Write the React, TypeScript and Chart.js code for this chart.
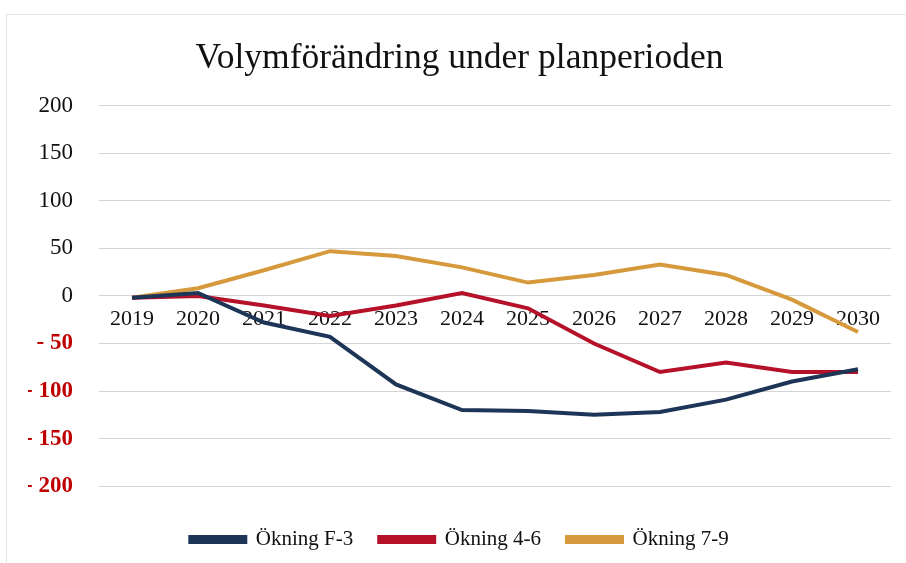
import React, { useEffect, useRef } from "react";
import { Chart, registerables } from "chart.js";

Chart.register(...registerables);

const years = ["2019", "2020", "2021", "2022", "2023", "2024", "2025", "2026", "2027", "2028", "2029", "2030"];
const okningF3 = [-2, 3, -28, -43, -93, -120, -121, -125, -122, -109, -90, -77];
const okning46 = [-2, 0, -10, -21, -10, 3, -13, -50, -80, -70, -80, -80];
const okning79 = [-2, 8, 27, 47, 42, 30, 14, 22, 33, 22, -4, -38];
const yTicks = [200, 150, 100, 50, 0, -50, -100, -150, -200];

const NAVY = "#1d3557";
const RED = "#b5122a";
const GOLD = "#d69a3c";
const SERIF = "'Liberation Serif', 'DejaVu Serif', serif";

export default function App() {
  const ref = useRef<HTMLCanvasElement | null>(null);
  useEffect(() => {
    if (!ref.current) return;
    const mk = (label: string, data: number[], color: string) => ({
      label,
      data,
      borderColor: color,
      backgroundColor: color,
      borderWidth: 4,
      pointRadius: 0,
      tension: 0,
    });
    const chart = new Chart(ref.current, {
      type: "line",
      data: {
        labels: years,
        datasets: [
          mk("Ökning F-3", okningF3, NAVY),
          mk("Ökning 4-6", okning46, RED),
          mk("Ökning 7-9", okning79, GOLD),
        ],
      },
      options: {
        animation: false,
        responsive: false,
        layout: { padding: { left: 28, right: 15, bottom: 3, top: 0 } },
        plugins: {
          title: {
            display: true,
            text: "Volymförändring under planperioden",
            color: "#111",
            font: { family: SERIF, size: 35.5, weight: "normal" },
            padding: { top: 37, bottom: 26 },
          },
          legend: {
            position: "bottom",
            title: { display: true, text: " ", font: { size: 14 }, padding: 0 },
            labels: {
              color: "#111",
              font: { family: SERIF, size: 21 },
              boxWidth: 55,
              boxHeight: 5,
              padding: 26,
            },
          },
          tooltip: { enabled: false },
        },
        scales: {
          x: {
            position: { y: 0 } as any,
            offset: true,
            grid: { display: false, drawTicks: false },
            border: { display: false },
            ticks: {
              color: "#111",
              font: { family: SERIF, size: 22 },
              padding: 10,
              maxRotation: 0,
              autoSkip: false,
            },
          },
          y: {
            min: -200,
            max: 200,
            afterFit: (s: any) => {
              s.width = 71;
            },
            afterBuildTicks: (s: any) => {
              s.ticks = yTicks.map((v) => ({ value: v }));
            },
            grid: { color: "#d4d4d4", lineWidth: 1, drawTicks: false },
            border: { display: false },
            ticks: {
              padding: 26,
              font: (ctx: any) => ({
                family: SERIF,
                size: 23,
                weight: ctx.tick && ctx.tick.value < 0 ? "bold" : "normal",
              }),
              color: (ctx: any) => (ctx.tick && ctx.tick.value < 0 ? "#c00000" : "#111"),
              callback: (v: any) => (Number(v) < 0 ? "- " + Math.abs(Number(v)) : String(v)),
            },
          },
        },
      },
    });
    return () => chart.destroy();
  }, []);
  return (
    <div style={{ position: "absolute", left: 0, top: 0, width: 906, height: 563, background: "#fff" }}>
      <div style={{ position: "absolute", left: 6, top: 14, width: 900, height: 549, borderTop: "1px solid #e2e2e2", borderLeft: "1px solid #e2e2e2" }} />
      <canvas ref={ref} width={906} height={563} style={{ position: "absolute", left: 0, top: 0 }} />
    </div>
  );
}
